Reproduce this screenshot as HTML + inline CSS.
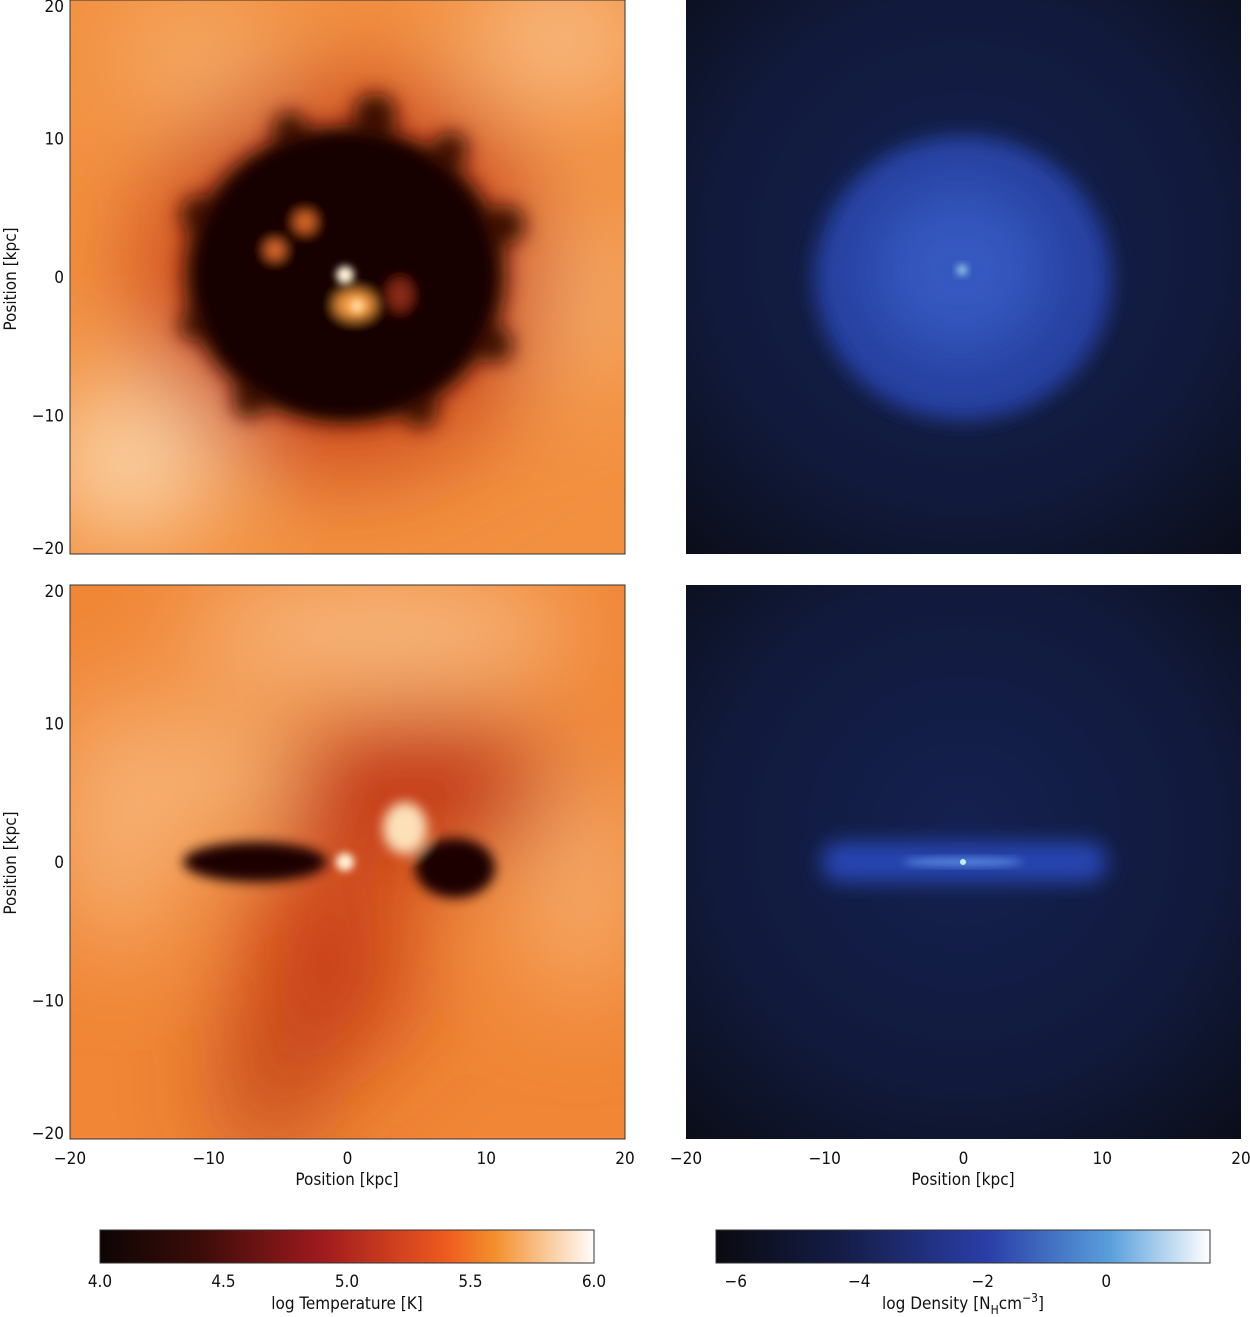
<!DOCTYPE html>
<html><head><meta charset="utf-8"><style>
body{margin:0;background:#fff;}
svg{display:block;font-family:"DejaVu Sans Condensed","Liberation Sans",sans-serif;}
text{font-size:17px;fill:#111;}
</style></head><body>
<svg id="fig" width="1250" height="1317" viewBox="0 0 1250 1317">
<defs>
<filter id="b30" x="-50%" y="-50%" width="200%" height="200%"><feGaussianBlur stdDeviation="30"/></filter>
<filter id="b10" x="-50%" y="-50%" width="200%" height="200%"><feGaussianBlur stdDeviation="10"/></filter>
<filter id="b6" x="-50%" y="-50%" width="200%" height="200%"><feGaussianBlur stdDeviation="6"/></filter>
<filter id="b4" x="-50%" y="-50%" width="200%" height="200%"><feGaussianBlur stdDeviation="4"/></filter>
<filter id="b50" x="-50%" y="-50%" width="200%" height="200%"><feGaussianBlur stdDeviation="50"/></filter>
<clipPath id="c1"><rect x="70" y="0" width="555" height="554"/></clipPath>
<clipPath id="c2"><rect x="686" y="0" width="555" height="554"/></clipPath>
<clipPath id="c3"><rect x="70" y="585" width="555" height="554"/></clipPath>
<clipPath id="c4"><rect x="686" y="585" width="555" height="554"/></clipPath>
<linearGradient id="tcb" x1="0" x2="1"><stop offset="0" stop-color="#0d0505"/><stop offset="0.2" stop-color="#3a0c08"/><stop offset="0.45" stop-color="#a01a1e"/><stop offset="0.7" stop-color="#ee5a20"/><stop offset="0.8" stop-color="#f3902c"/><stop offset="1" stop-color="#fffdfa"/></linearGradient>
<linearGradient id="dcb" x1="0" x2="1"><stop offset="0" stop-color="#0a0a10"/><stop offset="0.25" stop-color="#141c45"/><stop offset="0.55" stop-color="#2a3ea8"/><stop offset="0.8" stop-color="#5aa0dc"/><stop offset="1" stop-color="#ffffff"/></linearGradient>
<radialGradient id="dbg" cx="0.5" cy="0.45" r="0.75"><stop offset="0" stop-color="#142050"/><stop offset="0.6" stop-color="#111a3c"/><stop offset="1" stop-color="#0a0d18"/></radialGradient>
</defs>

<g clip-path="url(#c1)">
<rect x="70" y="0" width="555" height="554" fill="#f29040"/>
<g filter="url(#b50)">
<ellipse cx="130" cy="460" rx="90" ry="80" fill="#fbd3a6"/>
<ellipse cx="560" cy="40" rx="90" ry="60" fill="#f9c08a"/>
<ellipse cx="200" cy="60" rx="80" ry="60" fill="#f6ae6c"/>
<ellipse cx="580" cy="300" rx="60" ry="90" fill="#f7b070"/>
<ellipse cx="345" cy="275" rx="205" ry="200" fill="#cc4a1a"/>
</g>
<g filter="url(#b10)" fill="#3a0a04"><ellipse cx="345" cy="275" rx="162" ry="150"/>
<circle cx="200" cy="215" r="20"/><circle cx="505" cy="225" r="20"/><circle cx="375" cy="115" r="22"/><circle cx="495" cy="345" r="18"/><circle cx="195" cy="325" r="16"/><circle cx="290" cy="130" r="18"/><circle cx="450" cy="150" r="18"/><circle cx="250" cy="400" r="18"/><circle cx="420" cy="410" r="18"/></g>
<g filter="url(#b6)"><ellipse cx="345" cy="275" rx="148" ry="140" fill="#160402"/>
<ellipse cx="355" cy="305" rx="20" ry="14" fill="#f59a40"/>
<ellipse cx="305" cy="222" rx="10" ry="10" fill="#e06a2a"/>
<ellipse cx="275" cy="250" rx="9" ry="9" fill="#e87030"/>
<ellipse cx="400" cy="295" rx="12" ry="16" fill="#8a2a14"/>
</g>
<circle cx="345" cy="275" r="9" fill="#fff4d8" filter="url(#b4)"/>
<circle cx="357" cy="306" r="7" fill="#ffd9a0" filter="url(#b4)"/>
</g>

<g clip-path="url(#c2)">
<rect x="686" y="0" width="555" height="554" fill="url(#dbg)"/>
<g filter="url(#b10)"><ellipse cx="963" cy="278" rx="148" ry="142" fill="#2740a0"/></g>
<g filter="url(#b30)"><ellipse cx="960" cy="270" rx="90" ry="85" fill="#3558c0"/></g>
<circle cx="962" cy="270" r="5" fill="#a8e6f0" filter="url(#b4)"/>
</g>

<g clip-path="url(#c3)">
<rect x="70" y="585" width="555" height="554" fill="#f08636"/>
<g filter="url(#b50)">
<ellipse cx="380" cy="630" rx="200" ry="50" fill="#f8c08a"/>
<ellipse cx="120" cy="820" rx="60" ry="130" fill="#f7b478"/>
<ellipse cx="580" cy="880" rx="60" ry="120" fill="#f6ac6c"/>
<ellipse cx="230" cy="770" rx="40" ry="60" fill="#f9c890"/>
<ellipse cx="420" cy="790" rx="140" ry="70" fill="#c03414"/>
<ellipse cx="330" cy="960" rx="80" ry="110" fill="#c83e16"/>
<ellipse cx="270" cy="1080" rx="40" ry="80" fill="#b83814"/>
</g>
<g filter="url(#b6)" fill="#1a0502">
<ellipse cx="255" cy="862" rx="72" ry="20"/>
<ellipse cx="455" cy="868" rx="40" ry="30"/>
<ellipse cx="405" cy="828" rx="22" ry="26" fill="#fde0b8"/>
</g>
<circle cx="345" cy="862" r="9" fill="#fff4d8" filter="url(#b4)"/>
</g>

<g clip-path="url(#c4)">
<rect x="686" y="585" width="555" height="554" fill="url(#dbg)"/>
<g filter="url(#b10)"><rect x="822" y="842" width="284" height="40" rx="18" fill="#2844b0"/></g>
<ellipse cx="963" cy="862" rx="60" ry="4" fill="#5a8ce0" filter="url(#b4)"/>
<circle cx="963" cy="862" r="3" fill="#bff0f0"/>
</g>

<g fill="none" stroke="#333" stroke-width="1">
<rect x="70" y="0" width="555" height="554"/><rect x="70" y="585" width="555" height="554"/>
</g>
<g id="axes"></g>

<rect x="100" y="1230" width="494" height="33" fill="url(#tcb)" stroke="#333"/>
<rect x="716" y="1230" width="494" height="33" fill="url(#dcb)" stroke="#333"/>
<text x="347" y="1185" text-anchor="middle">Position [kpc]</text>
<text x="963" y="1185" text-anchor="middle">Position [kpc]</text>
<text transform="translate(16,279) rotate(-90)" text-anchor="middle">Position [kpc]</text>
<text transform="translate(16,863) rotate(-90)" text-anchor="middle">Position [kpc]</text>
<text x="347" y="1309" text-anchor="middle">log Temperature [K]</text>
<text x="963" y="1309" text-anchor="middle">log Density [N<tspan dy="5" font-size="12">H</tspan><tspan dy="-5">cm</tspan><tspan dy="-7" font-size="12">−3</tspan><tspan dy="7">]</tspan></text>
</svg>
<script>
const posTicks=[-20,-10,0,10,20];
const tempTicks=[4.0,4.5,5.0,5.5,6.0];
const densTicks=[-6,-4,-2,0];
const NS='http://www.w3.org/2000/svg';
const g=document.getElementById('axes');
function xMap(v,x0){return x0+(v+20)/40*555;}
function yMap(v,y0){return y0+(20-v)/40*554;}
function txt(x,y,s,a,name){const t=document.createElementNS(NS,'text');t.setAttribute('x',x);t.setAttribute('y',y);t.setAttribute('text-anchor',a);t.textContent=s;


g.appendChild(t);}
function lab(v){return v<0?'\u2212'+(-v):String(v);}
posTicks.forEach(v=>{
 txt(xMap(v,70),1164,lab(v),'middle','x-tick-label');
 txt(xMap(v,686),1164,lab(v),'middle','x-tick-label');
 txt(64,Math.min(Math.max(yMap(v,0)+6,12),554),lab(v),'end','y-tick-label');
 txt(64,Math.min(Math.max(yMap(v,585)+6,597),1139),lab(v),'end','y-tick-label');
});
tempTicks.forEach(v=>txt(100+(v-4)/2*494,1287,v.toFixed(1),'middle','temperature-tick-label'));
densTicks.forEach(v=>txt(716+(v+6.32)/8*494,1287,lab(v),'middle','density-tick-label'));
</script>
</body></html>
